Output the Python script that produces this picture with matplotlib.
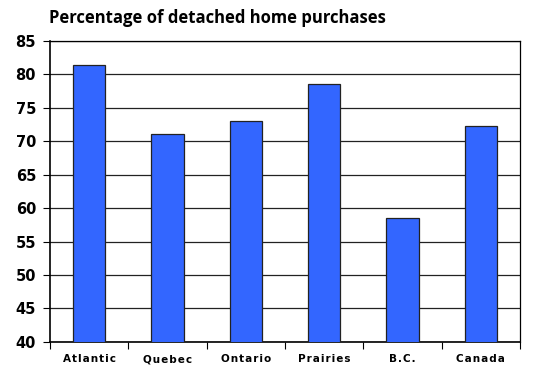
import matplotlib
matplotlib.use('Agg')
import matplotlib.pyplot as plt

# Données
regions = ['Atlantic', 'Quebec', 'Ontario', 'Prairies', 'B.C.', 'Canada']
pourcentages = [81.4, 71.0, 73.0, 78.5, 58.5, 72.2]
y_ticks = [40, 45, 50, 55, 60, 65, 70, 75, 80, 85]

plt.rcParams['font.family'] = ['Open Sans', 'DejaVu Sans']

fig = plt.figure(figsize=(5.55, 3.68), dpi=100)
ax = fig.add_axes([0.090, 0.071, 0.847, 0.818])

x = range(len(regions))
ax.bar(x, pourcentages, width=0.41, color='#3366ff', edgecolor='#222222',
       linewidth=0.9, zorder=3)

ax.set_ylim(40, 85)
ax.set_xlim(-0.5, len(regions) - 0.5)
ax.set_yticks(y_ticks)
ax.set_yticklabels([str(v) for v in y_ticks], fontsize=10.5, fontweight='bold',
                   family=['DejaVu Sans'])
ax.yaxis.grid(True, color='#222222', linewidth=0.9, zorder=0)

# étiquettes centrées, ticks entre les catégories
ax.set_xticks([i - 0.5 for i in range(len(regions) + 1)])
ax.set_xticklabels([])
ax.set_xticks(list(x), minor=True)
espaces = ['\u200a'.join(r) for r in regions]
ax.set_xticklabels(espaces, minor=True, fontsize=7.5, fontweight='bold',
                   family=['DejaVu Sans'])
ax.tick_params(axis='x', which='minor', length=0, pad=9)
ax.tick_params(axis='x', which='major', length=5, width=0.8, direction='out')
ax.tick_params(axis='y', length=5, width=0.8, direction='out', pad=5)

for s in ['left', 'bottom']:
    ax.spines[s].set_linewidth(1.2)
for s in ['top', 'right']:
    ax.spines[s].set_linewidth(0.9)

fig.text(0.088, 0.951, 'Percentage of detached home purchases', fontsize=12,
         fontweight='bold', va='center', ha='left')

fig.savefig('out.png', dpi=100)
